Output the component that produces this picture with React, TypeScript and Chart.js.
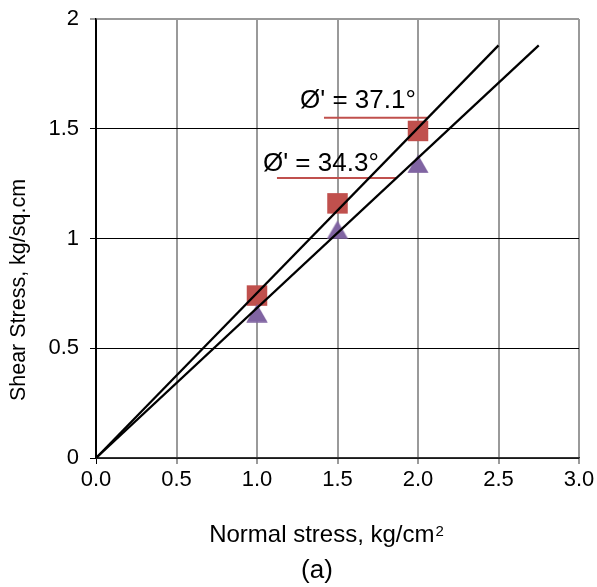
import React, { useEffect, useRef } from "react";
import { Chart, registerables } from "chart.js";

Chart.register(...registerables);

// ---- data ----
const normalStress = [1.0, 1.5, 2.0];
const shearSquares = [0.74, 1.16, 1.49];
const shearTriangles = [0.66, 1.04, 1.34];

const envelope1X = [0, 2.5];
const envelope1Y = [0, 1.88];
const envelope2X = [0, 2.75];
const envelope2Y = [0, 1.88];

const annotLabels = ["Ø' = 37.1°", "Ø' = 34.3°"];
const annotX = [1.267, 1.037];
const annotY = [1.593, 1.309];
const underline1X = [1.416, 2.056];
const underline1Y = [1.55, 1.55];
const underline2X = [1.124, 1.87];
const underline2Y = [1.276, 1.276];

const xTickValues = [0, 0.5, 1.0, 1.5, 2.0, 2.5, 3.0];
const yTickValues = [0, 0.5, 1, 1.5, 2];

const xTitle = "Normal stress, kg/cm";
const xTitleSup = "2";
const yTitle = "Shear Stress, kg/sq.cm";
const caption = "(a)";

const FONT = "'Liberation Sans', Arial, sans-serif";
const RED = "#C0504D";
const PURPLE = "#8064A2";
const GRAY = "#9a9a9a";

function pts(xs: number[], ys: number[]) {
  return xs.map((x, i) => ({ x, y: ys[i] }));
}

function makeTriangle(): HTMLCanvasElement {
  const c = document.createElement("canvas");
  c.width = 22;
  c.height = 19;
  const g = c.getContext("2d")!;
  g.fillStyle = PURPLE;
  g.beginPath();
  g.moveTo(11, 0.3);
  g.lineTo(21.7, 18.7);
  g.lineTo(0.3, 18.7);
  g.closePath();
  g.fill();
  return c;
}

export default function App() {
  const ref = useRef<HTMLCanvasElement>(null);

  useEffect(() => {
    const canvas = ref.current!;
    const textPlugin = {
      id: "texts",
      afterDatasetsDraw(chart: any) {
        const ctx = chart.ctx;
        const xs = chart.scales.x;
        const ys = chart.scales.y;
        ctx.save();
        ctx.fillStyle = "#000";
        // annotations
        ctx.font = `26px ${FONT}`;
        ctx.textAlign = "left";
        ctx.textBaseline = "alphabetic";
        annotLabels.forEach((t, i) => {
          ctx.fillText(t, xs.getPixelForValue(annotX[i]), ys.getPixelForValue(annotY[i]));
        });
        // x title
        ctx.font = `24px ${FONT}`;
        const w1 = ctx.measureText(xTitle).width;
        ctx.font = `15px ${FONT}`;
        const w2 = ctx.measureText(xTitleSup).width;
        const cx = 326;
        const startX = cx - (w1 + w2) / 2;
        ctx.font = `24px ${FONT}`;
        ctx.fillText(xTitle, startX, 542);
        ctx.font = `15px ${FONT}`;
        ctx.fillText(xTitleSup, startX + w1 + 1, 536);
        // caption
        ctx.font = `26px ${FONT}`;
        ctx.textAlign = "center";
        ctx.fillText(caption, 317, 578);
        // y title
        ctx.font = `21.5px ${FONT}`;
        ctx.translate(25, 290);
        ctx.rotate(-Math.PI / 2);
        ctx.textAlign = "center";
        ctx.fillText(yTitle, 0, 0);
        ctx.restore();
      },
    };

    const chart = new Chart(canvas, {
      type: "scatter",
      data: {
        datasets: [
          {
            label: "env1",
            type: "line",
            data: pts(envelope1X, envelope1Y),
            borderColor: "#000",
            borderWidth: 2.25,
            pointRadius: 0,
            order: 0,
          },
          {
            label: "env2",
            type: "line",
            data: pts(envelope2X, envelope2Y),
            borderColor: "#000",
            borderWidth: 2.25,
            pointRadius: 0,
            order: 0,
          },
          {
            label: "u1",
            type: "line",
            data: pts(underline1X, underline1Y),
            borderColor: RED,
            borderWidth: 2,
            pointRadius: 0,
            order: 3,
          },
          {
            label: "u2",
            type: "line",
            data: pts(underline2X, underline2Y),
            borderColor: RED,
            borderWidth: 2,
            pointRadius: 0,
            order: 3,
          },
          {
            label: "squares",
            data: pts(normalStress, shearSquares),
            pointStyle: "rect",
            pointRadius: 14.5,
            backgroundColor: RED,
            borderColor: RED,
            borderWidth: 0,
            order: 2,
          },
          {
            label: "triangles",
            data: pts(normalStress, shearTriangles),
            pointStyle: makeTriangle() as any,
            pointRadius: 11,
            backgroundColor: PURPLE,
            borderColor: PURPLE,
            order: 1,
          },
        ],
      },
      options: {
        animation: false,
        responsive: false,
        devicePixelRatio: 1,
        layout: { padding: { top: 19, right: 18, left: 0, bottom: 0 } },
        plugins: {
          legend: { display: false },
          tooltip: { enabled: false },
        },
        scales: {
          x: {
            type: "linear",
            min: 0,
            max: 3,
            afterBuildTicks: (s: any) => {
              s.ticks = xTickValues.map((v) => ({ value: v }));
            },
            afterFit: (s: any) => {
              s.height = 129;
              s.paddingLeft = 0;
              s.paddingRight = 0;
            },
            ticks: {
              color: "#000",
              font: { family: FONT, size: 22 },
              padding: 3,
              maxRotation: 0,
              callback: (v: any) => Number(v).toFixed(1),
            },
            grid: {
              color: (c: any) => (c.tick && c.tick.value === 0 ? "#000" : GRAY),
              lineWidth: (c: any) => (c.tick && c.tick.value === 0 ? 1 : 2),
              tickLength: 6,
            },
            border: { color: "#333", width: 1.5 },
          },
          y: {
            type: "linear",
            min: 0,
            max: 2,
            afterBuildTicks: (s: any) => {
              s.ticks = yTickValues.map((v) => ({ value: v }));
            },
            afterFit: (s: any) => {
              s.width = 96;
              s.paddingTop = 0;
              s.paddingBottom = 0;
            },
            ticks: {
              color: "#000",
              font: { family: FONT, size: 22 },
              padding: 11,
              callback: (v: any) => String(v),
            },
            grid: {
              color: (c: any) => (c.tick && c.tick.value === 2 ? GRAY : "#000"),
              lineWidth: (c: any) => (c.tick && c.tick.value === 2 ? 2 : 1),
              tickLength: 6,
            },
            border: { color: "#000", width: 1.5 },
          },
        },
      },
      plugins: [textPlugin],
    } as any);

    return () => chart.destroy();
  }, []);

  return (
    <div style={{ position: "fixed", left: 0, top: 0, width: 597, height: 587, background: "#fff" }}>
      <canvas ref={ref} width={597} height={587} style={{ width: 597, height: 587, display: "block" }} />
    </div>
  );
}
